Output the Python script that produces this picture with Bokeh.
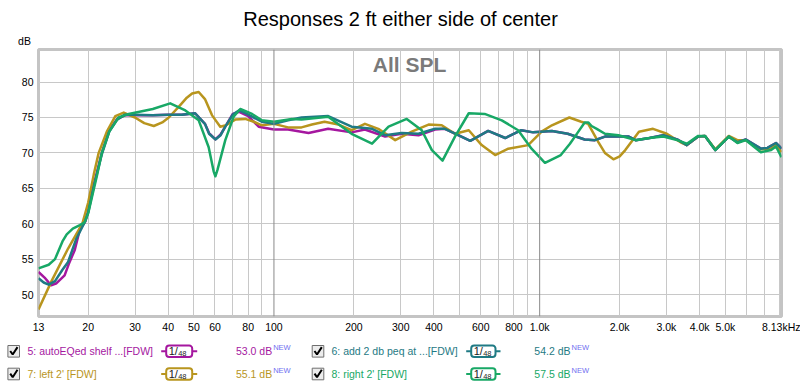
from bokeh.plotting import figure
from bokeh.models import Range1d, FixedTicker, Span, Label
from bokeh.layouts import column, row
from bokeh.embed import file_html
from bokeh.resources import INLINE

# ---------------- data ----------------
title_text = "Responses 2 ft either side of center"

f5 = [13, 13.7, 14.5, 15.2, 16.3, 16.9, 17.8, 18.6, 19.5, 20, 21, 22.5, 24, 25.7, 27.5, 30, 35, 40, 45,
      50.5, 55, 57, 60.2, 63, 65.6, 70, 74, 80, 87.6, 100, 113, 135, 160, 196, 220, 262, 302, 350, 404, 440,
      494, 548, 640, 742, 853, 945, 1112, 1275, 1477, 1615, 1761, 1922, 2164, 2296, 2590, 2920, 3290, 3580,
      3950, 4190, 4580, 5150, 5550, 5970, 6800, 7200, 7750, 8130]
db5 = [53.2, 52.4, 51.3, 51.6, 52.7, 54.3, 56.3, 59.2, 60.3, 61.8, 65.5, 70.0, 73.2, 74.8, 75.3, 75.3, 75.3, 75.4, 75.4,
       75.6, 74.1, 72.8, 71.9, 72.6, 73.7, 75.5, 75.8, 75.2, 73.7, 73.3, 73.3, 72.8, 73.4, 72.9, 73.3, 72.3, 72.7, 72.5, 73.3, 73.4,
       72.5, 71.7, 73.1, 72.1, 73.2, 72.9, 73.1, 72.7, 71.9, 71.8, 72.3, 72.3, 72.3, 71.8, 72.1, 72.5, 71.9, 71.1,
       72.3, 72.4, 70.4, 72.3, 71.5, 71.9, 70.6, 70.7, 71.4, 70.6]

f6 = [13, 13.6, 14.2, 15, 16, 16.8, 18, 19.4, 20, 21, 22.5, 24, 25.7, 27.5, 30, 35, 40, 45, 50.5, 55, 57,
      60.2, 63, 65.6, 70, 74, 80, 90, 100, 113, 127, 160, 196, 234, 262, 302, 350, 404, 440, 494, 548, 640,
      742, 853, 945, 1112, 1275, 1477, 1615, 1761, 1922, 2164, 2296, 2590, 2920, 3290, 3580, 3950, 4190,
      4580, 5150, 5550, 5970, 6800, 7200, 7750, 8130]
db6 = [52.3, 51.7, 51.4, 51.9, 53.5, 54.6, 57.8, 60.2, 61.6, 65.3, 69.8, 73.0, 74.7, 75.4, 75.4, 75.3, 75.4, 75.4, 75.6, 74.1, 72.7,
       71.9, 72.5, 73.7, 75.4, 76.0, 75.4, 74.4, 74.1, 74.6, 75.0, 75.2, 73.7, 73.4, 72.5, 72.8, 72.7, 73.4, 73.4, 72.5, 71.7, 73.1,
       72.1, 73.2, 72.9, 73.1, 72.7, 71.9, 71.8, 72.3, 72.3, 72.3, 71.8, 72.1, 72.5, 71.9, 71.1, 72.3, 72.4,
       70.4, 72.3, 71.5, 71.9, 70.6, 70.7, 71.4, 70.6]

f7 = [13, 14.6, 16.8, 19, 20, 21, 21.9, 23.5, 25.3, 27.2, 30, 32.5, 35.3, 38, 40.2, 43.8, 47, 49.2, 52.1, 55,
      58.5, 62.8, 66, 71.5, 78, 84, 90, 100, 113, 127, 139, 155, 175, 196, 220, 247, 286, 330, 382, 428, 480,
      541, 605, 680, 762, 905, 1017, 1112, 1293, 1434, 1523, 1665, 1760, 1895, 2000, 2100, 2364, 2670, 3010,
      3390, 3580, 3950, 4190, 4580, 5150, 5550, 5970, 6800, 7430, 7750, 8130]
db7 = [47.9, 52.0, 56.5, 60.0, 63.0, 67.0, 70.0, 73.0, 75.2, 75.7, 75.0, 74.2, 73.8, 74.3, 75.0, 76.5, 77.8, 78.4, 78.6, 77.6,
       75.3, 73.7, 73.9, 74.7, 74.8, 74.4, 73.9, 74.1, 73.6, 73.6, 74.0, 74.4, 74.0, 73.2, 74.1, 73.4, 71.8, 73.0, 74.0, 73.9, 72.7,
       73.2, 71.1, 69.7, 70.6, 71.1, 73.0, 73.9, 75.0, 74.4, 74.1, 71.5, 70.0, 69.1, 69.5, 70.4, 73.0, 73.4, 72.7,
       71.5, 71.1, 72.3, 72.4, 70.5, 72.4, 71.8, 71.8, 70.5, 70.6, 71.2, 70.1]

f8 = [13, 14.2, 15, 16, 16.6, 17.5, 18.6, 19.4, 20, 21.6, 22.5, 24, 26, 28.4, 35, 40.7, 46.4, 52.1, 56.8,
      59.3, 60.2, 61.3, 65.6, 70.5, 74.7, 82.7, 90, 100, 117, 127, 160, 196, 234, 270, 316, 360, 393, 431,
      480, 541, 621, 720, 830, 932, 1047, 1201, 1300, 1392, 1477, 1523, 1568, 1640, 1761, 1980, 2296, 2590,
      2920, 3290, 3580, 3950, 4190, 4580, 5150, 5550, 5970, 6800, 7430, 7750, 8130]
db8 = [53.7, 54.2, 55.0, 57.5, 58.5, 59.3, 59.8, 60.2, 61.5, 66.9, 70.0, 73.0, 75.0, 75.5, 76.2, 77.0, 76.0, 74.6, 70.8,
       67.4, 66.7, 67.6, 71.8, 75.1, 76.2, 75.5, 74.6, 74.4, 74.8, 74.7, 75.1, 72.7, 71.3, 73.7, 74.8, 73.2, 70.4, 68.9,
       72.3, 75.6, 75.5, 74.6, 73.2, 70.6, 68.6, 69.7, 71.3, 72.9, 74.3, 74.3, 73.8, 73.4, 72.7, 72.5, 71.8, 72.1,
       72.3, 71.8, 71.3, 72.4, 72.4, 70.4, 72.3, 71.4, 71.8, 70.1, 70.4, 70.9, 69.4]

names = ["5: autoEQed shelf ...[FDW]", "6: add 2 db peq at ...[FDW]", "7: left 2' [FDW]", "8: right 2' [FDW]"]
levels = ["53.0 dB", "54.2 dB", "55.1 dB", "57.5 dB"]
colors = ["#a5179f", "#1f7a84", "#b8951e", "#18a866"]

xticks = [13, 20, 30, 40, 50, 60, 80, 100, 200, 300, 400, 600, 800, 1000, 2000, 3000, 4000, 5000, 8130]
xlabels = ["13", "20", "30", "40", "50", "60", "80", "100", "200", "300", "400", "600", "800",
           "1.0k", "2.0k", "3.0k", "4.0k", "5.0k", "8.13kHz"]
xgrid = [20, 30, 40, 50, 60, 70, 80, 90, 200, 300, 400, 500, 600, 700, 800, 900,
         2000, 3000, 4000, 5000, 6000, 7000, 8000]
yticks = [50, 55, 60, 65, 70, 75, 80]

FONT = "Liberation Sans"
W = 800

# ---------------- header strip (title + unit) ----------------
hd = figure(width=W, height=47, x_range=Range1d(0, W), y_range=Range1d(47, 0),
            output_backend="svg", toolbar_location=None, min_border=0,
            x_axis_location=None, y_axis_location=None)
hd.title.visible = False
hd.grid.visible = False
hd.outline_line_color = None
hd.text(x=[400], y=[18], text=[title_text], text_font={"value": FONT}, text_font_size="20px",
        text_color="#000000", text_align="center", text_baseline="middle")
hd.text(x=[24], y=[40.5], text=["dB"], text_font={"value": FONT}, text_font_size="10.5px",
        text_color="#000000", text_align="center", text_baseline="middle")

# ---------------- main chart ----------------
p = figure(width=W, height=291, x_axis_type="log",
           x_range=Range1d(13, 8130), y_range=Range1d(46.9, 84.6),
           output_backend="svg", toolbar_location=None,
           min_border_left=38, min_border_right=19, min_border_top=2, min_border_bottom=22)
p.title.visible = False
p.background_fill_color = "white"
p.border_fill_color = "white"
p.outline_line_color = "#c4c4c4"
p.outline_line_width = 3

for ax in (p.xaxis, p.yaxis):
    ax.axis_line_color = None
    ax.major_tick_line_color = None
    ax.minor_tick_line_color = None
    ax.major_tick_out = 0
    ax.major_tick_in = 0
    ax.minor_tick_out = 0
    ax.minor_tick_in = 0
    ax.major_label_text_font = FONT
    ax.major_label_text_font_size = "10.5px"
    ax.major_label_text_color = "#000000"

p.xaxis.ticker = FixedTicker(ticks=xticks)
p.xaxis.major_label_overrides = {t: l for t, l in zip(xticks, xlabels)}
p.xaxis.major_label_standoff = 4
p.yaxis.ticker = FixedTicker(ticks=yticks)
p.yaxis.major_label_standoff = 5

p.xgrid.ticker = FixedTicker(ticks=xgrid)
p.ygrid.ticker = FixedTicker(ticks=yticks)
for g in (p.xgrid, p.ygrid):
    g.grid_line_color = "#c8c8c8"
    g.grid_line_width = 1

for loc in (100, 1000):
    p.add_layout(Span(location=loc, dimension="height", line_color="#8a8a8a", line_width=1))

for fx, dbs, c in [(f5, db5, colors[0]), (f7, db7, colors[2]), (f6, db6, colors[1]), (f8, db8, colors[3])]:
    p.line(fx, dbs, line_color=c, line_width=2.5, line_join="round")

p.add_layout(Label(x=371, y=252, x_units="screen", y_units="screen", text="All SPL",
                   text_font=FONT, text_font_size="21px", text_font_style="bold", text_color="#7a7a7a",
                   text_align="center", text_baseline="middle"))

# ---------------- legend strip ----------------
lg = figure(width=W, height=49, x_range=Range1d(0, W), y_range=Range1d(49, 0),
            output_backend="svg", toolbar_location=None, min_border=0,
            x_axis_location=None, y_axis_location=None)
lg.title.visible = False
lg.grid.visible = False
lg.outline_line_color = None
lg.background_fill_color = "white"
lg.border_fill_color = "white"

rows = [12.8, 35.5]
cols = [dict(cb=13.2, txt=27, bl=165.7, br=191.7, val=271.7),
        dict(cb=317.5, txt=331, bl=470.7, br=495.0, val=570.0)]
for i in range(4):
    r = rows[i // 2]
    cpos = cols[i % 2]
    c = colors[i]
    # checkbox
    lg.quad(left=cpos["cb"] - 5.8, right=cpos["cb"] + 5.8, top=r - 5.8, bottom=r + 5.8,
            fill_color="#ececec", line_color="#6e6e6e", line_width=1)
    lg.multi_line(xs=[[cpos["cb"] - 3.5, cpos["cb"] - 1, cpos["cb"] + 3.8]],
                  ys=[[r - 0.3, r + 3.2, r - 4.2]], line_color="#000000", line_width=2)
    # series name
    lg.text(x=[cpos["txt"]], y=[r], text=[names[i]], text_color=c, text_font_size="10.5px",
            text_baseline="middle", text_align="left", text_font={"value": FONT})
    # smoothing box
    lg.segment(x0=[cpos["bl"] - 5, cpos["br"]], x1=[cpos["bl"], cpos["br"] + 5], y0=[r, r], y1=[r, r],
               line_color=c, line_width=2)
    lg.quad(left=cpos["bl"], right=cpos["br"], top=r - 5.7, bottom=r + 5.7, fill_color="white",
            line_color=c, line_width=2, border_radius=3)
    lg.text(x=[cpos["bl"] + 2.5], y=[r - 0.5], text=["1/"], text_color="#222222", text_font_size="11px",
            text_baseline="middle", text_align="left", text_font={"value": FONT})
    lg.text(x=[cpos["bl"] + 12], y=[r + 2], text=["48"], text_color="#222222", text_font_size="7.5px",
            text_baseline="middle", text_align="left", text_font={"value": FONT})
    # level
    lg.text(x=[cpos["val"]], y=[r], text=[levels[i]], text_color=c, text_font_size="10.5px",
            text_baseline="middle", text_align="right", text_font={"value": FONT})
    lg.text(x=[cpos["val"] + 1], y=[r - 3.5], text=["NEW"], text_color="#6f6ff0", text_font_size="7.5px",
            text_baseline="middle", text_align="left", text_font={"value": FONT})

# wrap the strips in rows so that their frames are not aligned with the chart's frame
layout = column(row(hd), p, row(lg), spacing=0)
open("out.html", "w").write(file_html(layout, INLINE))
